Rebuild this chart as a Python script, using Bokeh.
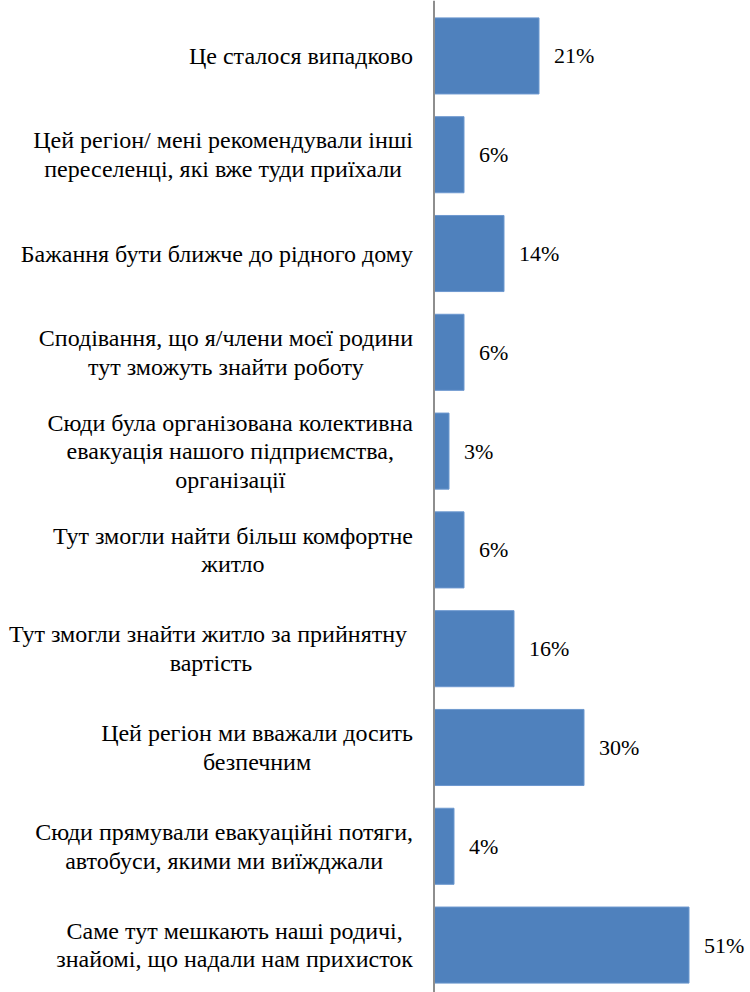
from bokeh.plotting import figure
from bokeh.models import ColumnDataSource, Range1d, Span
from bokeh.core.properties import value
from bokeh.embed import file_html
from bokeh.resources import INLINE

categories = [
    "Це сталося випадково",
    "Цей регіон/ мені рекомендували інші\nпереселенці, які вже туди приїхали",
    "Бажання бути ближче до рідного дому",
    "Сподівання, що я/члени моєї родини\nтут зможуть знайти роботу",
    "Сюди була організована колективна\nевакуація нашого підприємства,\nорганізації",
    "Тут змогли найти більш комфортне\nжитло",
    "Тут  змогли знайти житло за прийнятну\nвартість",
    "Цей регіон ми вважали досить\nбезпечним",
    "Сюди прямували евакуаційні потяги,\nавтобуси, якими ми виїжджали",
    "Саме тут мешкають наші родичі,\nзнайомі, що надали нам прихисток",
]
values = [21, 6, 14, 6, 3, 6, 16, 30, 4, 51]
value_labels = [f"{v}%" for v in values]

pos = list(range(len(categories)))
src = ColumnDataSource(dict(y=pos, v=values, cat=categories, lab=value_labels, zero=[0] * len(pos)))

p = figure(width=750, height=992, output_backend="svg", toolbar_location=None,
           x_range=Range1d(-86.7, 63.3), y_range=Range1d(9.48, -0.561),
           x_axis_location=None, y_axis_location=None,
           min_border_left=0, min_border_right=0, min_border_top=0, min_border_bottom=0)
p.grid.visible = False
p.outline_line_color = None

p.hbar(y="y", right="v", left=0, height=0.77, source=src,
       fill_color="#4F81BD", line_color="#6d98cf", line_width=1)

p.add_layout(Span(location=0, dimension="height", line_color="#8e8e8e", line_width=2))

p.text(x="zero", y="y", text="cat", source=src, anchor="center_right", text_align="center",
       x_offset=-21, text_font=value("Liberation Serif"), text_font_size="24px",
       text_line_height=1.1, text_color="black")

p.text(x="v", y="y", text="lab", source=src, text_align="left", text_baseline="middle",
       x_offset=15, text_font=value("Liberation Serif"), text_font_size="22px",
       text_color="black")

open("out.html", "w").write(file_html(p, INLINE))
